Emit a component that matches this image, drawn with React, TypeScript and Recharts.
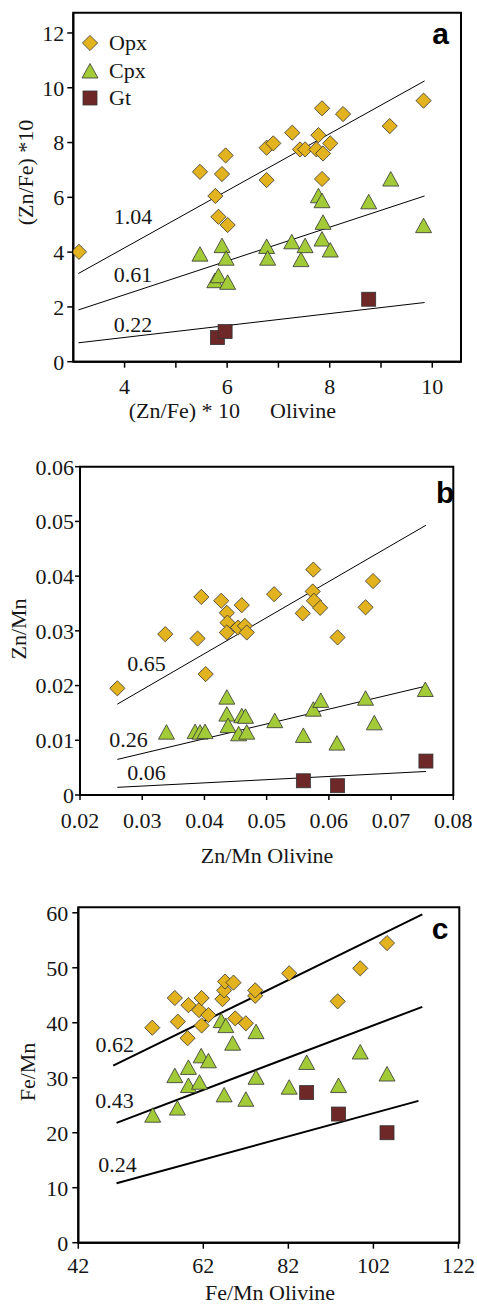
import React from 'react';
import { ScatterChart, Scatter, XAxis, YAxis, ReferenceLine, ReferenceArea, ReferenceDot, Label } from 'recharts';

const FONT = "'Liberation Serif','Times New Roman',Times,serif";
const SANS = "'Liberation Sans',Arial,Helvetica,sans-serif";
const OPX_FILL = '#E2B21F';
const CPX_FILL = '#A3CB38';
const GT_FILL = '#6F2828';
const EDGE = '#333333';
const INK = '#161616';

type P = { x: number; y: number };
type Seg = { x1: number; y1: number; x2: number; y2: number };
type Note = { text: string; x: number; y: number };

// ---------- Panel a ----------
const aXTicks = [4, 5, 6, 7, 8, 9, 10];
const aYTicks = [0, 2, 4, 6, 8, 10, 12];
const aOpx: P[] = [
  { x: 3.11, y: 4.01 }, { x: 5.47, y: 6.93 }, { x: 5.77, y: 6.05 }, { x: 5.83, y: 5.29 },
  { x: 5.9, y: 6.85 }, { x: 5.97, y: 7.53 }, { x: 6.01, y: 4.99 }, { x: 6.77, y: 6.63 },
  { x: 6.77, y: 7.81 }, { x: 6.9, y: 7.97 }, { x: 7.27, y: 8.36 }, { x: 7.42, y: 7.75 },
  { x: 7.52, y: 7.75 }, { x: 7.74, y: 7.75 }, { x: 7.78, y: 8.27 }, { x: 7.85, y: 9.25 },
  { x: 7.85, y: 6.67 }, { x: 7.87, y: 7.6 }, { x: 8.01, y: 7.97 }, { x: 8.26, y: 9.04 },
  { x: 9.17, y: 8.6 }, { x: 9.83, y: 9.53 },
];
const aCpx: P[] = [
  { x: 5.47, y: 3.89 }, { x: 5.76, y: 2.92 }, { x: 5.83, y: 3.1 }, { x: 5.9, y: 4.2 },
  { x: 5.98, y: 3.74 }, { x: 6.01, y: 2.86 }, { x: 6.77, y: 4.17 }, { x: 6.79, y: 3.74 },
  { x: 7.26, y: 4.34 }, { x: 7.44, y: 3.69 }, { x: 7.52, y: 4.2 }, { x: 7.78, y: 6.02 },
  { x: 7.85, y: 5.84 }, { x: 7.87, y: 5.05 }, { x: 7.85, y: 4.44 }, { x: 8.01, y: 4.04 },
  { x: 8.76, y: 5.8 }, { x: 9.19, y: 6.63 }, { x: 9.83, y: 4.93 },
];
const aGt: P[] = [{ x: 5.81, y: 0.88 }, { x: 5.96, y: 1.1 }, { x: 8.76, y: 2.28 }];
const aLines: Seg[] = [
  { x1: 3.1, y1: 3.22, x2: 9.85, y2: 10.25 },
  { x1: 3.1, y1: 1.89, x2: 9.85, y2: 6.05 },
  { x1: 3.1, y1: 0.69, x2: 9.85, y2: 2.16 },
];
const aNotes: Note[] = [
  { text: '1.04', x: 4.165, y: 5.32 },
  { text: '0.61', x: 4.165, y: 3.2 },
  { text: '0.22', x: 4.165, y: 1.37 },
];
const aLetter: Note = { text: 'a', x: 10.16, y: 12.0 };

// ---------- Panel b ----------
const bXTicks = [0.02, 0.03, 0.04, 0.05, 0.06, 0.07, 0.08];
const bYTicks = [0, 0.01, 0.02, 0.03, 0.04, 0.05, 0.06];
const bOpx: P[] = [
  { x: 0.026, y: 0.0195 }, { x: 0.0337, y: 0.0294 }, { x: 0.0389, y: 0.0286 }, { x: 0.0395, y: 0.0362 },
  { x: 0.0402, y: 0.0221 }, { x: 0.0427, y: 0.0355 }, { x: 0.0436, y: 0.0333 }, { x: 0.0437, y: 0.0315 },
  { x: 0.0436, y: 0.0297 }, { x: 0.0454, y: 0.0306 }, { x: 0.046, y: 0.0347 }, { x: 0.0465, y: 0.0309 },
  { x: 0.0468, y: 0.0297 }, { x: 0.0512, y: 0.0367 }, { x: 0.0558, y: 0.0332 }, { x: 0.0574, y: 0.0372 },
  { x: 0.0575, y: 0.0412 }, { x: 0.0576, y: 0.0355 }, { x: 0.0586, y: 0.0342 }, { x: 0.0614, y: 0.0288 },
  { x: 0.0659, y: 0.0343 }, { x: 0.0671, y: 0.0391 },
];
const bCpx: P[] = [
  { x: 0.0339, y: 0.0113 }, { x: 0.0385, y: 0.0114 }, { x: 0.0393, y: 0.0113 }, { x: 0.0401, y: 0.0114 },
  { x: 0.0436, y: 0.0177 }, { x: 0.0436, y: 0.0146 }, { x: 0.0438, y: 0.0125 }, { x: 0.0455, y: 0.011 },
  { x: 0.046, y: 0.0143 }, { x: 0.0466, y: 0.0142 }, { x: 0.0468, y: 0.0113 }, { x: 0.0513, y: 0.0134 },
  { x: 0.0559, y: 0.0107 }, { x: 0.0575, y: 0.0155 }, { x: 0.0587, y: 0.0171 }, { x: 0.0613, y: 0.0093 },
  { x: 0.0659, y: 0.0175 }, { x: 0.0673, y: 0.013 }, { x: 0.0755, y: 0.0191 },
];
const bGt: P[] = [{ x: 0.0559, y: 0.0026 }, { x: 0.0614, y: 0.0017 }, { x: 0.0756, y: 0.0062 }];
const bLines: Seg[] = [
  { x1: 0.026, y1: 0.0166, x2: 0.0756, y2: 0.0493 },
  { x1: 0.026, y1: 0.0065, x2: 0.0756, y2: 0.0199 },
  { x1: 0.026, y1: 0.0014, x2: 0.0756, y2: 0.0043 },
];
const bNotes: Note[] = [
  { text: '0.65', x: 0.0307, y: 0.0241 },
  { text: '0.26', x: 0.0278, y: 0.0102 },
  { text: '0.06', x: 0.0307, y: 0.0041 },
];
const bLetter: Note = { text: 'b', x: 0.0787, y: 0.0554 };

// ---------- Panel c ----------
const cXTicks = [32.6, 62, 82, 102, 122];
const cXTickLabels = ['42', '62', '82', '102', '122'];
const cYTicks = [0, 10, 20, 30, 40, 50, 60];
const cOpx: P[] = [
  { x: 50.0, y: 39.1 }, { x: 55.3, y: 44.5 }, { x: 56.0, y: 40.2 }, { x: 58.3, y: 37.2 },
  { x: 58.5, y: 43.2 }, { x: 61.0, y: 42.3 }, { x: 61.6, y: 44.5 }, { x: 61.6, y: 39.5 },
  { x: 63.2, y: 41.4 }, { x: 66.5, y: 44.3 }, { x: 66.9, y: 45.9 }, { x: 67.1, y: 47.5 },
  { x: 69.1, y: 47.3 }, { x: 69.5, y: 40.8 }, { x: 72.0, y: 39.9 }, { x: 74.2, y: 44.9 },
  { x: 74.2, y: 45.9 }, { x: 82.2, y: 49.0 }, { x: 93.6, y: 43.9 }, { x: 98.9, y: 49.9 },
  { x: 105.2, y: 54.5 },
];
const cCpx: P[] = [
  { x: 50.1, y: 23.0 }, { x: 55.3, y: 30.2 }, { x: 55.9, y: 24.3 }, { x: 58.5, y: 31.7 },
  { x: 58.5, y: 28.4 }, { x: 61.1, y: 29.0 }, { x: 61.5, y: 33.8 }, { x: 63.2, y: 32.9 },
  { x: 66.2, y: 40.2 }, { x: 66.9, y: 26.7 }, { x: 67.3, y: 39.3 }, { x: 68.9, y: 36.1 },
  { x: 72.0, y: 25.9 }, { x: 74.4, y: 38.2 }, { x: 74.4, y: 29.9 }, { x: 82.2, y: 28.1 },
  { x: 86.3, y: 32.6 }, { x: 93.8, y: 28.4 }, { x: 98.9, y: 34.5 }, { x: 105.2, y: 30.5 },
];
const cGt: P[] = [{ x: 86.3, y: 27.3 }, { x: 93.8, y: 23.4 }, { x: 105.2, y: 20.0 }];
const cLines: Seg[] = [
  { x1: 40.8, y1: 32.2, x2: 113.5, y2: 59.7 },
  { x1: 41.6, y1: 21.8, x2: 113.5, y2: 42.9 },
  { x1: 41.6, y1: 10.8, x2: 112.6, y2: 25.8 },
];
const cNotes: Note[] = [
  { text: '0.62', x: 41.2, y: 36.1 },
  { text: '0.43', x: 41.1, y: 25.9 },
  { text: '0.24', x: 41.8, y: 14.25 },
];
const cLetter: Note = { text: 'c', x: 117.7, y: 57.2 };

const legendItems = [
  { name: 'Opx', kind: 'diamond' },
  { name: 'Cpx', kind: 'triangle' },
  { name: 'Gt', kind: 'square' },
];

// ---------- shapes ----------
const Diamond = (p: any) => {
  const { cx, cy } = p;
  if (cx == null || cy == null) return <g />;
  const r = 7.6;
  return (
    <polygon
      points={`${cx},${cy - r} ${cx + r},${cy} ${cx},${cy + r} ${cx - r},${cy}`}
      fill={OPX_FILL}
      stroke={EDGE}
      strokeWidth={0.8}
    />
  );
};
const Triangle = (p: any) => {
  const { cx, cy } = p;
  if (cx == null || cy == null) return <g />;
  return (
    <polygon
      points={`${cx},${cy - 8.5} ${cx + 8},${cy + 6} ${cx - 8},${cy + 6}`}
      fill={CPX_FILL}
      stroke={EDGE}
      strokeWidth={0.8}
    />
  );
};
const Square = (p: any) => {
  const { cx, cy } = p;
  if (cx == null || cy == null) return <g />;
  return <rect x={cx - 7} y={cy - 7} width={14} height={14} fill={GT_FILL} stroke={EDGE} strokeWidth={0.8} />;
};

const tickStyle = { fontFamily: FONT, fontSize: 22, fill: INK };

const noteDot = (n: Note, i: number, extra: any = {}) => (
  <ReferenceDot
    key={'n' + i + n.text}
    x={n.x}
    y={n.y}
    r={1}
    fill="none"
    stroke="none"
    ifOverflow="visible"
    label={<Label value={n.text} position="center" fontFamily={FONT} fontSize={22} fill={INK} {...extra} />}
  />
);

const letterDot = (n: Note) => (
  <ReferenceDot
    x={n.x}
    y={n.y}
    r={1}
    fill="none"
    stroke="none"
    ifOverflow="visible"
    label={<Label value={n.text} position="center" fontFamily={SANS} fontSize={30} fontWeight="bold" fill="#000" />}
  />
);

const segLines = (segs: Seg[], w: number) =>
  segs.map((s, i) => (
    <ReferenceLine
      key={'l' + i}
      segment={[{ x: s.x1, y: s.y1 }, { x: s.x2, y: s.y2 }]}
      stroke="#000"
      strokeWidth={w}
      ifOverflow="visible"
    />
  ));

const YTitle = (x: number, y: number, text: string) => () =>
  (
    <text
      x={x}
      y={y}
      transform={`rotate(-90 ${x} ${y})`}
      textAnchor="middle"
      dominantBaseline="central"
      fontFamily={FONT}
      fontSize={22}
      fill={INK}
    >
      {text}
    </text>
  );

const LegendIcon = ({ kind }: { kind: string }) => (
  <svg width={20} height={20} style={{ display: 'block' }}>
    {kind === 'diamond' && <Diamond cx={10} cy={10} />}
    {kind === 'triangle' && <Triangle cx={10} cy={11} />}
    {kind === 'square' && <Square cx={10} cy={10} />}
  </svg>
);

const PanelA = () => (
  <div style={{ position: 'absolute', left: 0, top: 0, width: 477, height: 425 }}>
    <ScatterChart width={477} height={425} margin={{ top: 12.7, right: 16, bottom: 23.3, left: 13.3 }}>
      <XAxis
        type="number"
        dataKey="x"
        domain={[3, 10.56]}
        ticks={aXTicks}
        interval={0}
        allowDataOverflow
        tickFormatter={(v: number) => (v % 2 === 0 ? String(v) : '')}
        tick={tickStyle}
        tickSize={6}
        tickMargin={11}
        height={40}
        axisLine={{ stroke: '#000', strokeWidth: 2 }}
        tickLine={{ stroke: '#000', strokeWidth: 1.5 }}
        label={{
          content: () => (
            <g fontFamily={FONT} fontSize={22} fill={INK}>
              <text x={240} y={418} textAnchor="end" fill={INK}>(Zn/Fe) * 10</text>
              <text x={270} y={418} textAnchor="start" fill={INK}>Olivine</text>
            </g>
          ),
        }}
      />
      <YAxis
        type="number"
        dataKey="y"
        domain={[0, 12.74]}
        ticks={aYTicks}
        interval={0}
        allowDataOverflow
        tick={tickStyle}
        tickSize={6}
        tickMargin={3}
        width={60}
        axisLine={{ stroke: '#000', strokeWidth: 2 }}
        tickLine={{ stroke: '#000', strokeWidth: 1.5 }}
        label={{ content: YTitle(25, 172.5, '(Zn/Fe) *10') }}
      />
      <ReferenceArea x1={3} x2={10.56} y1={0} y2={12.74} fill="none" stroke="#000" strokeWidth={2} ifOverflow="visible" />
      {segLines(aLines, 1)}
      {aNotes.map((n, i) => noteDot(n, i))}
      {letterDot(aLetter)}
      <Scatter name="Opx" data={aOpx} shape={Diamond} isAnimationActive={false} />
      <Scatter name="Cpx" data={aCpx} shape={Triangle} isAnimationActive={false} />
      <Scatter name="Gt" data={aGt} shape={Square} isAnimationActive={false} />
    </ScatterChart>
    {legendItems.map((it, i) => (
      <div
        key={it.name}
        style={{
          position: 'absolute',
          left: 80,
          top: 33 + i * 27.5,
          height: 20,
          display: 'flex',
          alignItems: 'center',
          fontFamily: FONT,
          fontSize: 22,
          color: INK,
          lineHeight: '20px',
        }}
      >
        <LegendIcon kind={it.kind} />
        <span style={{ marginLeft: 9 }}>{it.name}</span>
      </div>
    ))}
  </div>
);

const PanelB = () => (
  <div style={{ position: 'absolute', left: 0, top: 425, width: 477, height: 445 }}>
    <ScatterChart width={477} height={445} margin={{ top: 41.7, right: 23.7, bottom: 35, left: 20 }}>
      <XAxis
        type="number"
        dataKey="x"
        domain={[0.02, 0.08]}
        ticks={bXTicks}
        interval={0}
        allowDataOverflow
        tickFormatter={(v: number) => v.toFixed(2)}
        tick={tickStyle}
        tickSize={5}
        tickMargin={12}
        height={40}
        axisLine={{ stroke: '#000', strokeWidth: 2 }}
        tickLine={{ stroke: '#000', strokeWidth: 1.5 }}
        label={{
          content: () => (
            <text x={267} y={438} textAnchor="middle" fontFamily={FONT} fontSize={22} fill={INK}>
              Zn/Mn Olivine
            </text>
          ),
        }}
      />
      <YAxis
        type="number"
        dataKey="y"
        domain={[0, 0.06]}
        ticks={bYTicks}
        interval={0}
        allowDataOverflow
        tickFormatter={(v: number) => (v === 0 ? '0' : v.toFixed(2))}
        tick={tickStyle}
        tickSize={5}
        tickMargin={1}
        width={60}
        axisLine={{ stroke: '#000', strokeWidth: 2 }}
        tickLine={{ stroke: '#000', strokeWidth: 1.5 }}
        label={{ content: YTitle(18, 204, 'Zn/Mn') }}
      />
      <ReferenceArea x1={0.02} x2={0.08} y1={0} y2={0.06} fill="none" stroke="#000" strokeWidth={2} ifOverflow="visible" />
      {segLines(bLines, 1)}
      {bNotes.map((n, i) => noteDot(n, i))}
      {letterDot(bLetter)}
      <Scatter name="Opx" data={bOpx} shape={Diamond} isAnimationActive={false} />
      <Scatter name="Cpx" data={bCpx} shape={Triangle} isAnimationActive={false} />
      <Scatter name="Gt" data={bGt} shape={Square} isAnimationActive={false} />
    </ScatterChart>
  </div>
);

const PanelC = () => (
  <div style={{ position: 'absolute', left: 0, top: 870, width: 477, height: 437 }}>
    <ScatterChart width={477} height={437} margin={{ top: 37.3, right: 17.7, bottom: 24.3, left: 18.3 }}>
      <XAxis
        type="number"
        dataKey="x"
        domain={[32.6, 122.2]}
        ticks={cXTicks}
        interval={0}
        allowDataOverflow
        tickFormatter={(v: number, i: number) => cXTickLabels[i] ?? String(v)}
        tick={tickStyle}
        tickSize={6}
        tickMargin={9}
        height={40}
        axisLine={{ stroke: '#000', strokeWidth: 2 }}
        tickLine={{ stroke: '#000', strokeWidth: 1.5 }}
        label={{
          content: () => (
            <text x={270} y={430} textAnchor="middle" fontFamily={FONT} fontSize={22} fill={INK}>
              Fe/Mn Olivine
            </text>
          ),
        }}
      />
      <YAxis
        type="number"
        dataKey="y"
        domain={[0, 61]}
        ticks={cYTicks}
        interval={0}
        allowDataOverflow
        tick={tickStyle}
        tickSize={6}
        tickMargin={4}
        width={60}
        axisLine={{ stroke: '#000', strokeWidth: 2 }}
        tickLine={{ stroke: '#000', strokeWidth: 1.5 }}
        label={{ content: YTitle(27, 202, 'Fe/Mn') }}
      />
      <ReferenceArea x1={32.6} x2={122.2} y1={0} y2={61} fill="none" stroke="#000" strokeWidth={2} ifOverflow="visible" />
      {segLines(cLines, 2)}
      {cNotes.map((n, i) => noteDot(n, i))}
      {letterDot(cLetter)}
      <Scatter name="Opx" data={cOpx} shape={Diamond} isAnimationActive={false} />
      <Scatter name="Cpx" data={cCpx} shape={Triangle} isAnimationActive={false} />
      <Scatter name="Gt" data={cGt} shape={Square} isAnimationActive={false} />
    </ScatterChart>
  </div>
);

export default function App() {
  return (
    <div style={{ position: 'absolute', left: 0, top: 0, width: 477, height: 1307, background: '#fff', overflow: 'hidden' }}>
      <PanelA />
      <PanelB />
      <PanelC />
    </div>
  );
}
